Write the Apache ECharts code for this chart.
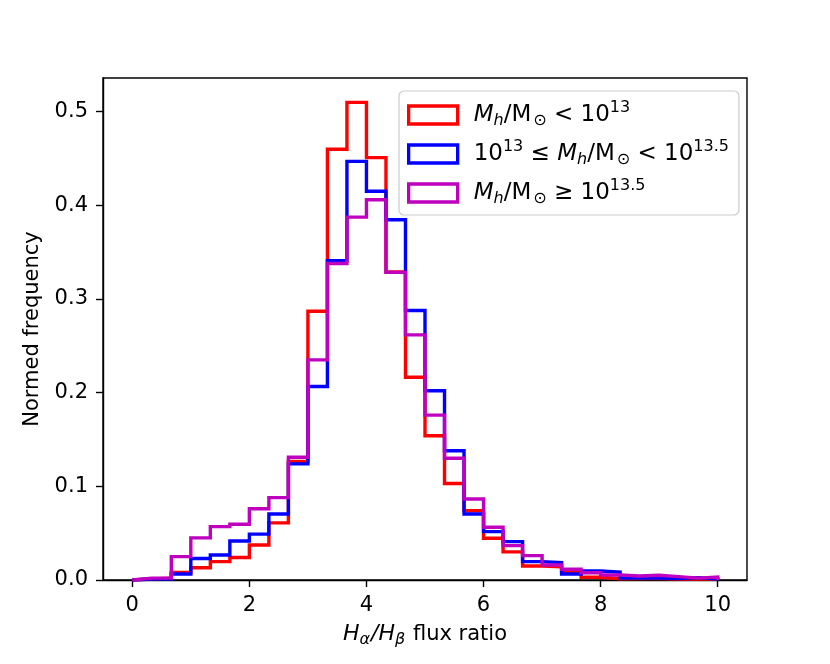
<!DOCTYPE html>
<html style="height: 100%">
<head>
    <meta charset="utf-8">
    <script src="https://cdn.jsdelivr.net/npm/echarts@6/dist/echarts.min.js"></script>
</head>
<body style="height: 100%; margin: 0; background: #fff">
<div id="container" style="width: 830px; height: 664px"></div>
<script type="text/javascript">
    // histogram bins: 30 bins of width 1/3 from 0 to 10
    var binStart = 0;
    var binWidth = 1 / 3;
    var xTicks = [0, 2, 4, 6, 8, 10];
    var yTicks = [0, 0.1, 0.2, 0.3, 0.4, 0.5];

    var seriesNames = ['low', 'mid', 'high'];
    var lowMass = [0.001, 0.002, 0.008, 0.013, 0.0196, 0.024, 0.0374, 0.061, 0.1265, 0.287,
        0.460, 0.510, 0.451, 0.329, 0.2165, 0.154, 0.103, 0.074, 0.0445, 0.030,
        0.015, 0.014, 0.008, 0.003, 0.0014, 0.0015, 0.0015, 0.001, 0.001, 0.001];
    var midMass = [0.001, 0.001, 0.0064, 0.023, 0.0267, 0.0417, 0.049, 0.0705, 0.124, 0.2066,
        0.341, 0.447, 0.415, 0.3846, 0.2877, 0.202, 0.138, 0.0705, 0.0516, 0.041,
        0.0196, 0.0185, 0.0064, 0.0096, 0.0085, 0.002, 0.002, 0.0015, 0.0025, 0.001];
    var highMass = [0.002, 0.002, 0.025, 0.045, 0.057, 0.0595, 0.076, 0.088, 0.131, 0.235,
        0.338, 0.3875, 0.406, 0.3285, 0.2617, 0.176, 0.130, 0.0865, 0.0563, 0.0367,
        0.026, 0.016, 0.0114, 0.0078, 0.0053, 0.0043, 0.005, 0.0036, 0.002, 0.0032];
    var colors = ['#ff0000', '#0000ff', '#bf00bf'];

    var legendText = {
        low: '{it|M}{sub|h}{rm|/M}{sub2|⊙}{rm| < 10}{sup|13}',
        mid: '{rm|10}{sup|13}{rm| ≤ }{it|M}{sub|h}{rm|/M}{sub2|⊙}{rm| < 10}{sup|13.5}',
        high: '{it|M}{sub|h}{rm|/M}{sub2|⊙}{rm| ≥ 10}{sup|13.5}'
    };

    // step outline like matplotlib histtype='step'
    function stepData(vals) {
        var pts = [[binStart, 0]];
        for (var i = 0; i < vals.length; i++) {
            pts.push([binStart + i * binWidth, vals[i]]);
        }
        var end = binStart + vals.length * binWidth;
        pts.push([end, vals[vals.length - 1]]);
        pts.push([end, 0]);
        return pts;
    }

    var font = 'DejaVu Sans';
    var dom = document.getElementById("container");
    var myChart = echarts.init(dom, null, {renderer: 'canvas'});

    var allVals = [lowMass, midMass, highMass];
    var series = [];
    for (var k = 0; k < 3; k++) {
        series.push({
            name: seriesNames[k],
            type: 'line',
            step: 'end',
            showSymbol: false,
            symbol: 'none',
            animation: false,
            lineStyle: {color: colors[k], width: 3.4, join: 'miter'},
            itemStyle: {color: colors[k]},
            data: stepData(allVals[k]),
            z: 2 + k
        });
    }

    var legendRich = {
        rm: {fontFamily: font, fontSize: 23, color: '#000'},
        it: {fontFamily: font, fontSize: 23, fontStyle: 'italic', color: '#000'},
        sub: {fontFamily: font, fontSize: 16, fontStyle: 'italic', color: '#000', padding: [12, 0, 0, 0]},
        sub2: {fontFamily: font, fontSize: 16, color: '#000', padding: [12, 0, 0, 2]},
        sup: {fontFamily: font, fontSize: 16, color: '#000', padding: [0, 0, 14, 0]}
    };
    var axisRich = {
        rm: {fontFamily: font, fontSize: 21, color: '#000'},
        it: {fontFamily: font, fontSize: 22, fontStyle: 'italic', color: '#000'},
        sub: {fontFamily: font, fontSize: 16, fontStyle: 'italic', color: '#000', padding: [11, 1, 0, 0]}
    };

    option = {
        backgroundColor: '#fff',
        animation: false,
        grid: {
            left: 103, right: 83, top: 78, bottom: 84,
            show: true, borderColor: '#000', borderWidth: 1.4, backgroundColor: 'transparent'
        },
        legend: {
            orient: 'vertical',
            left: 399,
            top: 91,
            padding: [9, 10, 8, 8],
            itemWidth: 49,
            itemHeight: 18,
            itemGap: 10,
            backgroundColor: 'rgba(255,255,255,0.8)',
            borderColor: '#cccccc',
            borderWidth: 1.2,
            borderRadius: 5,
            data: seriesNames.map(function (n, i) {
                return {
                    name: n, icon: 'rect',
                    itemStyle: {color: 'rgba(255,255,255,0)', borderColor: colors[i], borderWidth: 3.3}
                };
            }),
            formatter: function (name) { return legendText[name]; },
            textStyle: {fontFamily: font, fontSize: 23, padding: [0, 0, 0, 11], rich: legendRich}
        },
        xAxis: {
            type: 'value',
            min: -0.5,
            max: 10.5,
            splitLine: {show: false},
            axisLine: {show: true, onZero: false, lineStyle: {color: '#000', width: 1.4}},
            axisTick: {show: true, length: 7, lineStyle: {color: '#000', width: 1.4}, customValues: xTicks},
            axisLabel: {
                customValues: xTicks, margin: 15,
                fontFamily: font, fontSize: 21, color: '#000'
            },
            name: '{it|H}{sub|α}{it|/H}{sub|β}{rm| flux ratio}',
            nameLocation: 'middle',
            nameGap: 41,
            nameTextStyle: {rich: axisRich, fontFamily: font, fontSize: 21}
        },
        yAxis: {
            type: 'value',
            min: 0,
            max: 0.536,
            splitLine: {show: false},
            axisLine: {show: true, onZero: false, lineStyle: {color: '#000', width: 1.4}},
            axisTick: {show: true, length: 7, lineStyle: {color: '#000', width: 1.4}, customValues: yTicks},
            axisLabel: {
                customValues: yTicks, margin: 15,
                fontFamily: font, fontSize: 21, color: '#000',
                formatter: function (v) { return v.toFixed(1); }
            },
            name: 'Normed frequency',
            nameLocation: 'middle',
            nameGap: 60,
            nameTextStyle: {fontFamily: font, fontSize: 21, color: '#000'}
        },
        series: series
    };
    if (option && typeof option === "object") {
        myChart.setOption(option, true);
    }
</script>
</body>
</html>
